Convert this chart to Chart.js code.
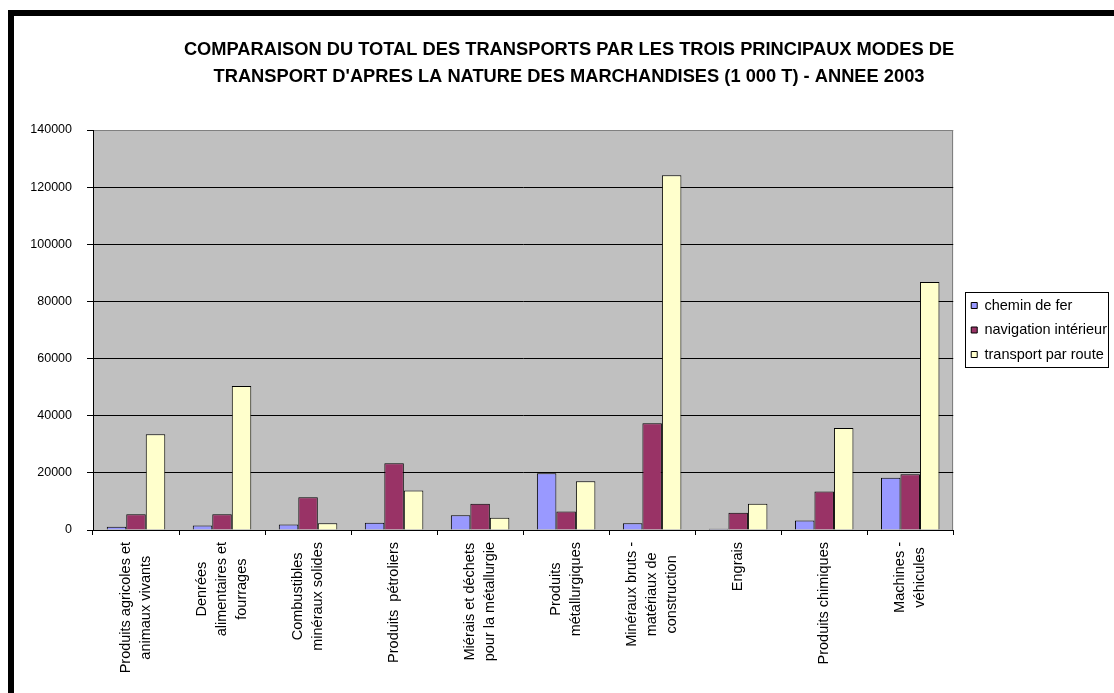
<!DOCTYPE html>
<html>
<head>
<meta charset="utf-8">
<script src="https://cdn.jsdelivr.net/npm/chart.js@4.4.1/dist/chart.umd.min.js"></script>
<style>
  html, body { margin: 0; padding: 0; background: #fff; }
  #frame {
    position: absolute; left: 8px; top: 10px; width: 1106px; height: 683px;
    box-sizing: border-box; border-top: 6px solid #000; border-left: 6px solid #000;
  }
  #chart { position: absolute; left: 0; top: 0; }
</style>
</head>
<body>
<div id="frame"></div>
<canvas id="chart" width="1114" height="693"></canvas>
<script>
const FONT = "'Liberation Sans', Arial, sans-serif";

const titleLines = [
  "COMPARAISON DU TOTAL DES TRANSPORTS PAR LES TROIS PRINCIPAUX MODES DE",
  "TRANSPORT D'APRES LA NATURE DES MARCHANDISES (1 000 T) - ANNEE 2003",
];

const categories = [
  ["Produits agricoles et", "animaux vivants"],
  ["Denrées", "alimentaires et", "fourrages"],
  ["Combustibles", "minéraux solides"],
  ["Produits  pétroliers"],
  ["Miérais et déchets", "pour la métallurgie"],
  ["Produits", "métallurgiques"],
  ["Minéraux bruts -", "matériaux de", "construction"],
  ["Engrais"],
  ["Produits chimiques"],
  ["Machines -", "véhicules"],
];

const cheminDeFer = [1100, 1600, 1900, 2500, 5200, 19900, 2400, 400, 3300, 18300];
const navigation = [5500, 5500, 11500, 23400, 9200, 6500, 37400, 6000, 13500, 19500];
const route = [33500, 50400, 2400, 13800, 4300, 17100, 124200, 9200, 35700, 86800];

const yMin = 0;
const yMax = 140000;
const yStep = 20000;

// grey plot area like the spreadsheet original
const plotArea = {
  id: "plotArea",
  beforeDraw(chart) {
    const { ctx, chartArea: a } = chart;
    ctx.save();
    ctx.fillStyle = "#c0c0c0";
    ctx.fillRect(a.left, a.top, a.right - a.left, a.bottom - a.top);
    ctx.strokeStyle = "#808080";
    ctx.lineWidth = 1;
    ctx.strokeRect(Math.round(a.left) + 0.5, Math.round(a.top) + 0.5,
      Math.round(a.right - a.left) - 1, Math.round(a.bottom - a.top));
    ctx.restore();
  },
};

// rotated, centred multi-line category labels
const categoryLabels = {
  id: "categoryLabels",
  afterDraw(chart) {
    const { ctx } = chart;
    const x = chart.scales.x;
    ctx.save();
    ctx.font = "14.5px " + FONT;
    ctx.fillStyle = "#000";
    ctx.textAlign = "center";
    ctx.textBaseline = "middle";
    categories.forEach((lines, i) => {
      const cx = x.getPixelForTick(i);
      const longest = Math.max(...lines.map((l) => ctx.measureText(l).width));
      const cy = x.top + 12 + longest / 2;
      lines.forEach((line, j) => {
        ctx.save();
        ctx.translate(cx + (j - (lines.length - 1) / 2) * 20, cy);
        ctx.rotate(-Math.PI / 2);
        ctx.fillText(line, 0, 0);
        ctx.restore();
      });
    });
    ctx.restore();
  },
};

// nudge legend next to the plot, centred on it, and frame it
const legendFrame = {
  id: "legendFrame",
  afterLayout(chart) {
    const lg = chart.legend;
    lg.left += 8;
    lg.right += 8;
    lg.top = chart.chartArea.top;
    lg.bottom = chart.chartArea.bottom;
    lg.height = lg.bottom - lg.top;
  },
  afterDraw(chart) {
    const boxes = chart.legend.legendHitBoxes;
    if (!boxes || !boxes.length) return;
    const left = Math.min(...boxes.map((b) => b.left));
    const top = Math.min(...boxes.map((b) => b.top));
    const bottom = Math.max(...boxes.map((b) => b.top + b.height));
    const { ctx } = chart;
    ctx.save();
    ctx.strokeStyle = "#000";
    ctx.lineWidth = 1;
    ctx.strokeRect(Math.round(left - 6) + 0.5, Math.round(top - 6) + 0.5,
      143, Math.round(bottom - top + 11));
    ctx.restore();
  },
};

new Chart(document.getElementById("chart"), {
  type: "bar",
  data: {
    labels: categories.map((l) => l.join(" ")),
    datasets: [
      { label: "chemin de fer", data: cheminDeFer, backgroundColor: "#9999ff" },
      { label: "navigation intérieur", data: navigation, backgroundColor: "#993366" },
      { label: "transport par route", data: route, backgroundColor: "#ffffcc" },
    ].map((d) => ({
      ...d,
      borderColor: "#000",
      borderWidth: 1,
      categoryPercentage: 0.68,
      barPercentage: 1.0,
    })),
  },
  options: {
    responsive: false,
    animation: false,
    layout: { padding: { top: 10, left: 29, right: 5, bottom: 0 } },
    plugins: {
      title: {
        display: true,
        text: titleLines,
        color: "#000",
        font: { family: FONT, size: 18.3, weight: "bold", lineHeight: 27 / 18.3 },
        padding: { top: 26.5, bottom: 39.5 },
      },
      legend: {
        position: "right",
        labels: {
          color: "#000",
          font: { family: FONT, size: 14.5 },
          boxWidth: 6,
          boxHeight: 6,
          padding: 10,
        },
      },
      tooltip: { enabled: false },
    },
    scales: {
      x: {
        offset: true,
        afterFit: (s) => { s.height = 163; },
        ticks: { display: false },
        grid: { drawOnChartArea: false, drawTicks: true, tickLength: 5, color: "#000" },
        border: { color: "#000" },
      },
      y: {
        min: yMin,
        max: yMax,
        afterFit: (s) => { s.width = 64; },
        ticks: {
          stepSize: yStep,
          padding: 15,
          color: "#000",
          font: { family: FONT, size: 12.5 },
          callback: (v) => String(v),
        },
        grid: {
          color: (c) => (c.tick && c.tick.value === yMax ? "#808080" : "#000"),
          tickColor: "#000",
          tickLength: 6,
        },
        border: { color: "#000" },
      },
    },
  },
  plugins: [plotArea, categoryLabels, legendFrame],
});
</script>
</body>
</html>
